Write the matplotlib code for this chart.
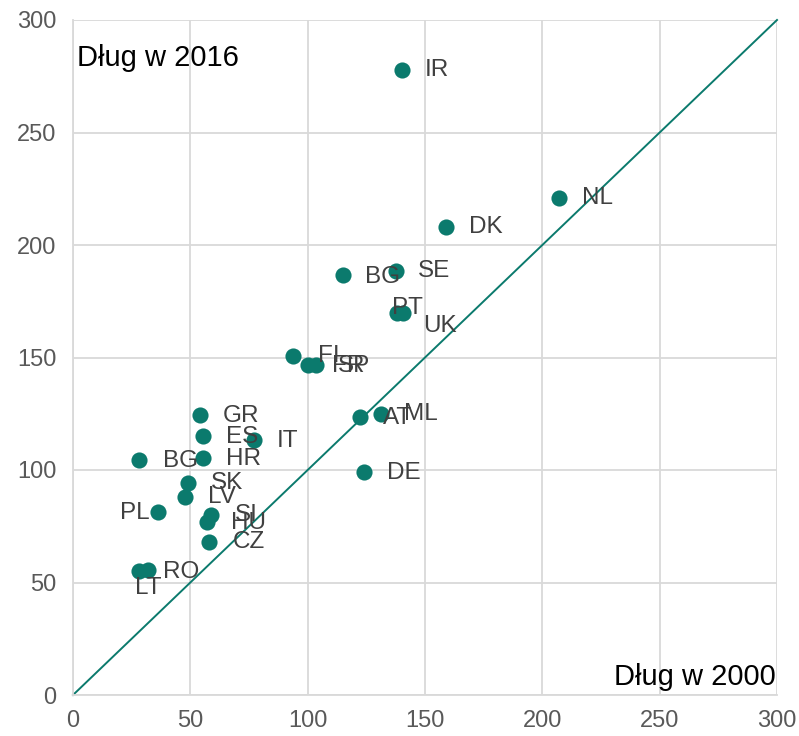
import matplotlib
matplotlib.use("Agg")
import matplotlib.pyplot as plt

plt.rcParams['font.family'] = ['Liberation Sans', 'DejaVu Sans']

# debt in 2000 (x) vs debt in 2016 (y)
countries = ["IR", "NL", "DK", "BG", "SE", "PT", "UK", "FI", "FR", "SP",
             "AT", "ML", "DE", "GR", "ES", "IT", "HR", "BG", "SK", "LV",
             "PL", "SI", "HU", "CZ", "RO", "LT"]
debt_2000 = [140.2, 207.1, 158.9, 115.0, 137.6, 138.0, 140.6, 93.7, 100.1, 103.5,
             122.3, 131.2, 124.0, 54.1, 55.4, 77.1, 55.4, 28.1, 49.0, 47.7,
             36.2, 58.8, 57.1, 57.9, 32.0, 28.1]
debt_2016 = [277.8, 220.9, 208.0, 186.7, 188.4, 169.8, 169.8, 150.7, 146.7, 146.7,
             123.6, 124.9, 99.1, 124.4, 115.1, 113.3, 105.3, 104.4, 94.2, 88.0,
             81.3, 80.0, 76.9, 68.0, 55.6, 55.1]

# label offsets in pixels (dx, dy up), placement only
offsets = {0: (23, 0), 1: (23, 0), 2: (23, 0), 3: (22, -2), 4: (22, 0),
           5: (-5, 5), 6: (20, -13), 7: (25, 0), 8: (24, -1), 9: (22, -1),
           10: (23, -1), 11: (23, 0), 12: (23, -1), 13: (23, -1), 14: (23, -1),
           15: (23, -1), 16: (23, -1), 17: (24, -1), 18: (23, 0), 19: (23, 0),
           20: (-8, -1), 21: (24, 0), 22: (24, -1), 23: (24, 0), 24: (15, -2),
           25: (-4, -17)}
right_aligned = {20}

teal = "#0B7A6D"
grid_c = "#D9D9D9"
tick_c = "#595959"

fig = plt.figure(figsize=(7.99, 7.36), dpi=100)
ax = fig.add_axes([73 / 799, 41 / 736, 704 / 799, 675 / 736])

ax.plot([0, 300], [0, 300], color=teal, lw=1.4, zorder=2, clip_on=False)
ax.scatter(debt_2000, debt_2016, s=135, color=teal, zorder=3, linewidths=0)

for i, (name, x, y) in enumerate(zip(countries, debt_2000, debt_2016)):
    dx, dy = offsets[i]
    ax.annotate(name, (x, y), xytext=(dx * 0.72, dy * 0.72), textcoords="offset points",
                fontsize=17.5, color="#404040", va="center",
                ha="right" if i in right_aligned else "left", zorder=4)

ax.set_xlim(0, 300)
ax.set_ylim(0, 300)
ax.set_xticks(range(0, 301, 50))
ax.set_yticks(range(0, 301, 50))
ax.grid(True, color=grid_c, lw=1.3)
ax.set_axisbelow(True)
for s in ["top", "right"]:
    ax.spines[s].set_visible(False)
for s in ["left", "bottom"]:
    ax.spines[s].set_color(grid_c)
    ax.spines[s].set_linewidth(1.3)
ax.tick_params(length=0, labelsize=17, colors=tick_c)
ax.tick_params(axis="x", pad=11)
ax.tick_params(axis="y", pad=12)

ax.text(0.005, 0.944, "Dług w 2016", transform=ax.transAxes, fontsize=21,
        color="black", ha="left", va="center")
ax.text(0.998, 0.027, "Dług w 2000", transform=ax.transAxes, fontsize=21,
        color="black", ha="right", va="center")

fig.savefig("out.png", dpi=100)
